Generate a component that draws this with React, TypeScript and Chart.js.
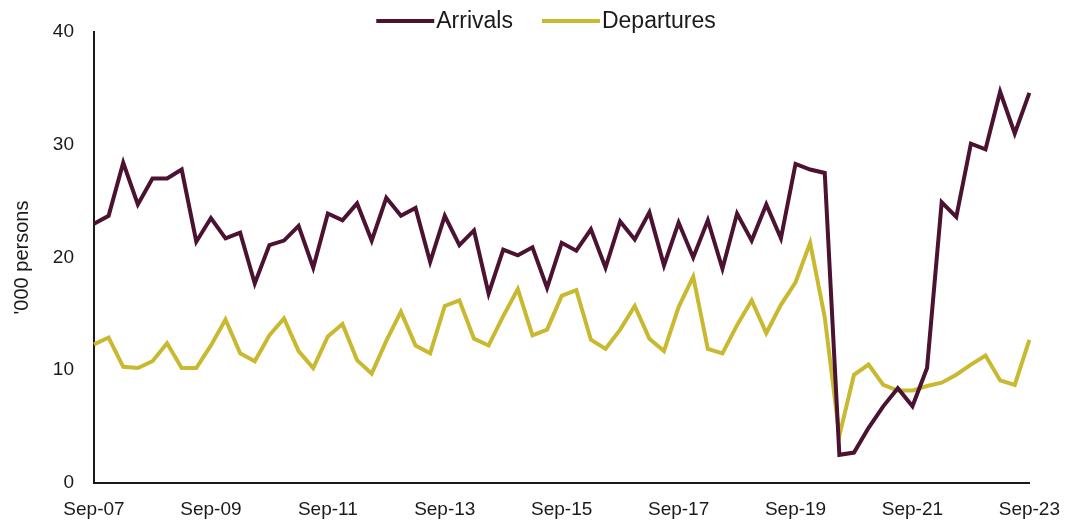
import React, { useEffect, useRef } from "react";
import { Chart, registerables } from "chart.js";

Chart.register(...registerables);

// Quarterly observations, Sep-07 through Sep-23 ('000 persons)
const arrivals: number[] = [
  23.0, 23.7, 28.4, 24.7, 27.0, 27.0, 27.8, 21.4, 23.5, 21.7, 22.2, 17.7,
  21.1, 21.5, 22.8, 19.1, 23.9, 23.3, 24.8, 21.5, 25.3, 23.7, 24.4, 19.6,
  23.7, 21.1, 22.4, 16.8, 20.7, 20.2, 20.9, 17.3, 21.3, 20.6, 22.5, 19.1,
  23.2, 21.6, 24.0, 19.3, 23.1, 20.0, 23.3, 19.0, 23.9, 21.5, 24.7, 21.7,
  28.3, 27.8, 27.5, 2.5, 2.7, 4.9, 6.8, 8.4, 6.8, 10.2, 24.9, 23.6,
  30.1, 29.6, 34.7, 31.0, 34.6,
];

const departures: number[] = [
  12.3, 12.9, 10.3, 10.2, 10.8, 12.4, 10.2, 10.2, 12.2, 14.5, 11.5, 10.8,
  13.1, 14.6, 11.7, 10.2, 13.0, 14.1, 10.9, 9.7, 12.6, 15.2, 12.2, 11.5,
  15.7, 16.2, 12.8, 12.2, 14.8, 17.2, 13.1, 13.6, 16.6, 17.1, 12.7, 11.9,
  13.6, 15.7, 12.8, 11.7, 15.6, 18.3, 11.9, 11.5, 14.0, 16.2, 13.3, 15.8,
  17.8, 21.3, 14.7, 4.2, 9.6, 10.5, 8.7, 8.2, 8.2, 8.6, 8.9, 9.6,
  10.5, 11.3, 9.1, 8.7, 12.7,
];

const seriesNames = ["Arrivals", "Departures"];
const seriesColors = ["#4b1231", "#c9b930"];

const shownTickLabels = [
  "Sep-07", "Sep-09", "Sep-11", "Sep-13", "Sep-15",
  "Sep-17", "Sep-19", "Sep-21", "Sep-23",
];
const yTicks = [0, 10, 20, 30, 40];

const FONT = "'Liberation Sans', Arial, sans-serif";
const TEXT = "#1a1a1a";

// Sep-07, Dec-07, Mar-08, Jun-08, Sep-08, ... Sep-23
function buildQuarterLabels(first: number, last: number): string[] {
  const yy = (y: number) => String(y % 100).padStart(2, "0");
  const out: string[] = [];
  for (let y = first; y <= last; y++) {
    out.push(`Sep-${yy(y)}`);
    if (y < last) {
      out.push(`Dec-${yy(y)}`, `Mar-${yy(y + 1)}`, `Jun-${yy(y + 1)}`);
    }
  }
  return out;
}

const quarterLabels = buildQuarterLabels(2007, 2023);

// Line-style legend drawn across the top of the canvas
const lineLegend = {
  id: "lineLegend",
  afterDraw(chart: Chart) {
    const ctx = chart.ctx;
    const markerW = 58;
    const gap = 2;
    const spacing = 29;
    const y = 21;
    ctx.save();
    ctx.font = `23px ${FONT}`;
    const widths = seriesNames.map((n) => ctx.measureText(n).width);
    const total =
      widths.reduce((s, w) => s + markerW + gap + w, 0) +
      spacing * (seriesNames.length - 1);
    let x = 546 - total / 2;
    seriesNames.forEach((name, i) => {
      ctx.strokeStyle = seriesColors[i];
      ctx.lineWidth = 4;
      ctx.beginPath();
      ctx.moveTo(x, y);
      ctx.lineTo(x + markerW, y);
      ctx.stroke();
      x += markerW + gap;
      ctx.fillStyle = TEXT;
      ctx.textBaseline = "middle";
      ctx.textAlign = "left";
      ctx.fillText(name, x, y + 1);
      x += widths[i] + spacing;
    });
    ctx.restore();
  },
};

export default function App() {
  const canvasRef = useRef<HTMLCanvasElement | null>(null);

  useEffect(() => {
    if (!canvasRef.current) return;
    const chart = new Chart(canvasRef.current, {
      type: "line",
      data: {
        labels: quarterLabels,
        datasets: [
          {
            label: seriesNames[0],
            data: arrivals,
            borderColor: seriesColors[0],
            backgroundColor: seriesColors[0],
            borderWidth: 4,
            pointRadius: 0,
            tension: 0,
          },
          {
            label: seriesNames[1],
            data: departures,
            borderColor: seriesColors[1],
            backgroundColor: seriesColors[1],
            borderWidth: 4,
            pointRadius: 0,
            tension: 0,
          },
        ],
      },
      options: {
        responsive: false,
        animation: false,
        layout: { padding: { top: 32, right: 41, left: 0, bottom: 0 } },
        plugins: {
          legend: { display: false },
          tooltip: { enabled: false },
        },
        scales: {
          x: {
            type: "category",
            offset: false,
            grid: { display: false, drawTicks: false },
            border: { display: true, color: TEXT, width: 2 },
            ticks: {
              autoSkip: false,
              maxRotation: 0,
              minRotation: 0,
              padding: 15,
              color: TEXT,
              font: { family: FONT, size: 19 },
              callback: (_v: any, i: number) =>
                shownTickLabels.includes(quarterLabels[i]) ? quarterLabels[i] : "",
            },
            afterFit: (scale: any) => {
              scale.height = 43;
            },
          },
          y: {
            min: yTicks[0],
            max: yTicks[yTicks.length - 1],
            grid: { display: false, drawTicks: false },
            border: { display: true, color: TEXT, width: 2 },
            ticks: {
              stepSize: 10,
              padding: 20,
              color: TEXT,
              font: { family: FONT, size: 19 },
            },
            title: {
              display: true,
              text: "'000 persons",
              color: TEXT,
              font: { family: FONT, size: 20 },
              padding: { top: 10, bottom: 0 },
            },
            afterFit: (scale: any) => {
              scale.width = 94;
            },
          },
        },
      },
      plugins: [lineLegend],
    });
    return () => chart.destroy();
  }, []);

  return (
    <div
      style={{
        position: "fixed",
        left: 0,
        top: 0,
        width: 1075,
        height: 526,
        background: "#fff",
      }}
    >
      <canvas ref={canvasRef} width={1075} height={526} />
    </div>
  );
}
